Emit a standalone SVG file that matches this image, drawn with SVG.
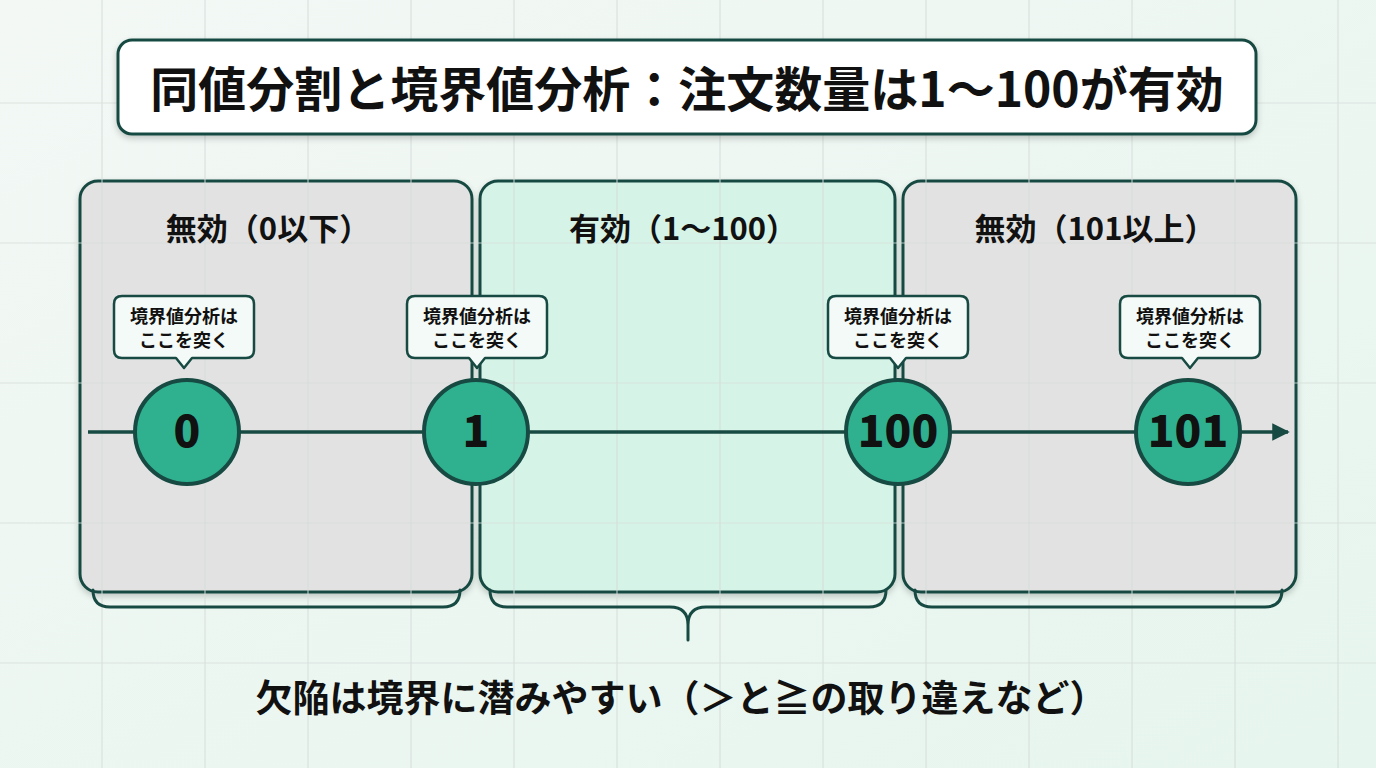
<svg xmlns="http://www.w3.org/2000/svg" width="1376" height="768" viewBox="0 0 1376 768">
<defs>
<style>
text{font-family:"Noto Sans CJK JP","Noto Sans",sans-serif;font-weight:bold;fill:#111;text-anchor:middle}
.grid{stroke:#d5ddd9;stroke-width:1.2}
.panel{stroke:#174a42;stroke-width:3}
.br{fill:none;stroke:#174a42;stroke-width:3;stroke-linecap:round}
.node{fill:#2fb08f;stroke:#174a42;stroke-width:4}
.call{fill:#f4faf7;stroke:#174a42;stroke-width:2.5;stroke-linejoin:round}
.ct{font-size:18px}
.nt{font-size:44px;font-weight:900}
.pl{font-size:31px}
</style>
<linearGradient id="bg" x1="0" y1="0" x2="1" y2="1"><stop offset="0" stop-color="#f3f8f5"/><stop offset="1" stop-color="#e6f5ee"/></linearGradient>
<marker id="ah" viewBox="0 0 10 10" refX="9" refY="5" markerWidth="5" markerHeight="5" orient="auto"><path d="M0,0L10,5L0,10z" fill="#174a42"/></marker>
<filter id="sh" x="-10%" y="-10%" width="120%" height="130%"><feDropShadow dx="0" dy="3" stdDeviation="3" flood-opacity="0.2"/></filter>
</defs>
<rect width="1376" height="768" fill="url(#bg)"/>
<g id="panels">
<rect id="p0" class="panel" x="80" y="181" width="392" height="411" rx="18" fill="#e2e2e2" filter="url(#sh)"/>
<rect id="p1" class="panel" x="480" y="181" width="415" height="411" rx="18" fill="#d6f3e7" filter="url(#sh)"/>
<rect id="p2" class="panel" x="903" y="181" width="393" height="411" rx="18" fill="#e2e2e2" filter="url(#sh)"/>
</g>
<g id="gridlines">
<path class="grid" d="M102,0V768M205,0V768M308,0V768M411,0V768M514,0V768M617,0V768M720,0V768M823,0V768M926,0V768M1029,0V768M1132,0V768M1235,0V768M1338,0V768M0,103H1376M0,243H1376M0,383H1376M0,523H1376M0,663H1376" opacity="0.8"/>
</g>
<g id="title">
<rect x="118" y="40" width="1138" height="94" rx="14" fill="#fff" stroke="#174a42" stroke-width="3" filter="url(#sh)"/>
<text x="687" y="107" font-size="48">同値分割と境界値分析：注文数量は1〜100が有効</text>
</g>
<g id="labels">
<text class="pl" x="268" y="240">無効（0以下）</text>
<text class="pl" x="683" y="240">有効（1〜100）</text>
<text class="pl" x="1095" y="240">無効（101以上）</text>
</g>
<g id="connectors">
<path class="br" d="M93,590Q93,607 110,607H443Q460,607 460,590"/>
<path class="br" d="M490,590Q490,607 507,607H670Q688,607 688,625V640M688,625Q688,607 706,607H869Q886,607 886,590"/>
<path class="br" d="M915,590Q915,607 932,607H1265Q1282,607 1282,590"/>
<line x1="88" y1="432" x2="1288" y2="432" stroke="#174a42" stroke-width="3.5" marker-end="url(#ah)"/>
</g>
<g id="n0"><circle class="node" cx="187" cy="432" r="52"/><text class="nt" x="187" y="447">0</text></g>
<g id="n1"><circle class="node" cx="476" cy="432" r="52"/><text class="nt" x="476" y="447">1</text></g>
<g id="n100"><circle class="node" cx="898" cy="432" r="52"/><text class="nt" x="898" y="447">100</text></g>
<g id="n101"><circle class="node" cx="1188" cy="432" r="52"/><text class="nt" x="1188" y="447">101</text></g>
<g id="c0"><path class="call" d="M122,296H246Q254,296 254,304V350Q254,358 246,358H192L184,368L176,358H122Q114,358 114,350V304Q114,296 122,296z"/><text class="ct" x="184" y="323">境界値分析は</text><text class="ct" x="184" y="347">ここを突く</text></g>
<g id="c1"><path class="call" d="M415,296H539Q547,296 547,304V350Q547,358 539,358H485L477,368L469,358H415Q407,358 407,350V304Q407,296 415,296z"/><text class="ct" x="477" y="323">境界値分析は</text><text class="ct" x="477" y="347">ここを突く</text></g>
<g id="c2"><path class="call" d="M836,296H960Q968,296 968,304V350Q968,358 960,358H906L898,368L890,358H836Q828,358 828,350V304Q828,296 836,296z"/><text class="ct" x="898" y="323">境界値分析は</text><text class="ct" x="898" y="347">ここを突く</text></g>
<g id="c3"><path class="call" d="M1128,296H1252Q1260,296 1260,304V350Q1260,358 1252,358H1198L1190,368L1182,358H1128Q1120,358 1120,350V304Q1120,296 1128,296z"/><text class="ct" x="1190" y="323">境界値分析は</text><text class="ct" x="1190" y="347">ここを突く</text></g>
<g id="footer"><text x="681" y="712" font-size="37">欠陥は境界に潜みやすい（＞と≧の取り違えなど）</text></g>
</svg>
